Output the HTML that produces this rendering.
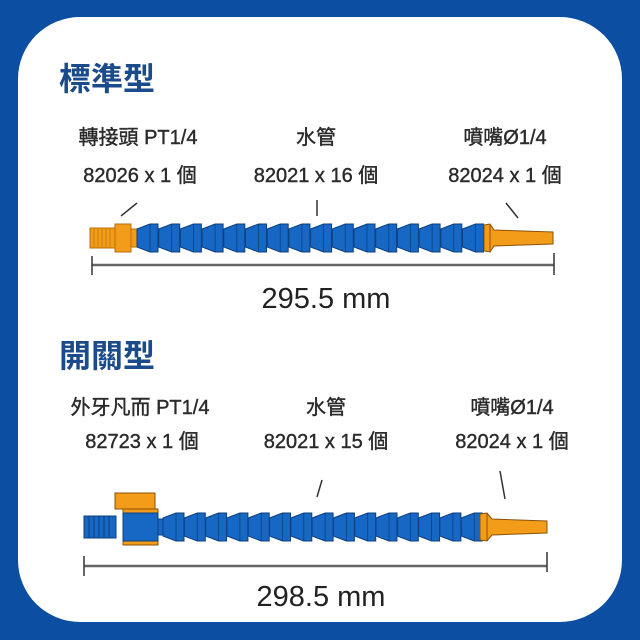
<!DOCTYPE html>
<html><head><meta charset="utf-8"><style>
html,body{margin:0;padding:0;background:#0b4ea2;}
svg{display:block}
text{font-family:"Liberation Sans","Noto Sans CJK TC",sans-serif;}
</style></head><body>
<svg width="640" height="640" viewBox="0 0 640 640" xmlns="http://www.w3.org/2000/svg">
<defs>
<g id="seg"><path d="M0,-9 L13,-14 L21,-14 L21,14 L13,14 L0,9 Z" fill="#1668c4" stroke="#0e3f7e" stroke-width="1"/><line x1="13" y1="-14" x2="13" y2="14" stroke="#0e3f7e" stroke-width="0.8"/></g>
</defs>
<rect x="0" y="0" width="640" height="640" fill="#0b4ea2"/>
<rect x="18" y="17" width="604" height="605" rx="62" fill="#fff"/>
<g fill="#1b4b8a" font-weight="bold" font-size="32">
<text x="59" y="90">標準型</text>
<text x="59" y="367">開關型</text>
</g>
<g fill="#2a2a2a" font-size="20" text-anchor="middle" stroke="#2a2a2a" stroke-width="0.4">
<text x="138" y="144">轉接頭 PT1/4</text>
<text x="140" y="182">82026 x 1 個</text>
<text x="316" y="144">水管</text>
<text x="316" y="182">82021 x 16 個</text>
<text x="505" y="144">噴嘴Ø1/4</text>
<text x="505" y="182">82024 x 1 個</text>
<text x="140" y="414">外牙凡而 PT1/4</text>
<text x="142" y="448">82723 x 1 個</text>
<text x="326" y="414">水管</text>
<text x="326" y="448">82021 x 15 個</text>
<text x="512" y="414">噴嘴Ø1/4</text>
<text x="512" y="448">82024 x 1 個</text>
</g>
<g stroke="#333" stroke-width="1.5">
<line x1="121" y1="216" x2="137" y2="203"/>
<line x1="317" y1="200" x2="317" y2="216"/>
<line x1="506" y1="203" x2="518" y2="218"/>
<line x1="322" y1="480" x2="317" y2="497"/>
<line x1="500" y1="471" x2="505" y2="499"/>
</g>
<g transform="translate(0,238)">
<rect x="90" y="-10" width="26" height="20" fill="#f39c1a" stroke="#b86e0a"/>
<g stroke="#c8800f" stroke-width="1"><line x1="94" y1="-10" x2="94" y2="10"/><line x1="98" y1="-10" x2="98" y2="10"/><line x1="102" y1="-10" x2="102" y2="10"/><line x1="106" y1="-10" x2="106" y2="10"/><line x1="110" y1="-10" x2="110" y2="10"/></g>
<rect x="115" y="-14" width="16" height="28" fill="#f39c1a" stroke="#b86e0a"/>
<rect x="131" y="-9" width="6" height="18" fill="#f39c1a" stroke="#b86e0a"/>
<use href="#seg" x="137"/><use href="#seg" x="158.7"/><use href="#seg" x="180.4"/><use href="#seg" x="202.1"/><use href="#seg" x="223.8"/><use href="#seg" x="245.5"/><use href="#seg" x="267.2"/><use href="#seg" x="288.9"/><use href="#seg" x="310.6"/><use href="#seg" x="332.3"/><use href="#seg" x="354"/><use href="#seg" x="375.7"/><use href="#seg" x="397.4"/><use href="#seg" x="419.1"/><use href="#seg" x="440.8"/><use href="#seg" x="462.5"/>
<path d="M484,-13 L490,-14 L494,-8 L553,-6 L553,6 L494,8 L490,14 L484,13 Z" fill="#f39c1a" stroke="#8a5208"/>
<line x1="490" y1="-14" x2="490" y2="14" stroke="#8a5208"/>
</g>
<g stroke="#666" stroke-width="2.5"><line x1="92" y1="265" x2="554" y2="265"/></g>
<g stroke="#333" stroke-width="1.5"><line x1="92" y1="256" x2="92" y2="275"/><line x1="554" y1="253" x2="554" y2="275"/></g>
<text x="326" y="308" font-size="29" text-anchor="middle" fill="#222">295.5 mm</text>
<g transform="translate(0,527)">
<rect x="84" y="-11" width="32" height="22" fill="#1668c4" stroke="#0e3f7e"/>
<g stroke="#0e3f7e" stroke-width="1"><line x1="89" y1="-11" x2="89" y2="11"/><line x1="94" y1="-11" x2="94" y2="11"/><line x1="99" y1="-11" x2="99" y2="11"/><line x1="104" y1="-11" x2="104" y2="11"/><line x1="109" y1="-11" x2="109" y2="11"/></g>
<rect x="115" y="-34" width="40" height="16" fill="#f39c1a" stroke="#8a5208"/>
<rect x="123" y="-18" width="35" height="36" fill="#f39c1a" stroke="#8a5208"/>
<rect x="123" y="-14" width="35" height="28" fill="#1668c4" stroke="#0e3f7e"/>
<rect x="158" y="-8" width="5" height="16" fill="#1668c4" stroke="#0e3f7e"/>
<use href="#seg" x="163"/><use href="#seg" x="184.3"/><use href="#seg" x="205.6"/><use href="#seg" x="226.9"/><use href="#seg" x="248.2"/><use href="#seg" x="269.5"/><use href="#seg" x="290.8"/><use href="#seg" x="312.1"/><use href="#seg" x="333.4"/><use href="#seg" x="354.7"/><use href="#seg" x="376"/><use href="#seg" x="397.3"/><use href="#seg" x="418.6"/><use href="#seg" x="439.9"/><use href="#seg" x="461.2"/>
<path d="M480,-13 L487,-14 L492,-8 L547,-6 L547,6 L492,8 L487,14 L480,13 Z" fill="#f39c1a" stroke="#8a5208"/>
<line x1="487" y1="-14" x2="487" y2="14" stroke="#8a5208"/>
</g>
<g stroke="#666" stroke-width="2.5"><line x1="84" y1="566" x2="547" y2="566"/></g>
<g stroke="#333" stroke-width="1.5"><line x1="84" y1="556" x2="84" y2="576"/><line x1="547" y1="552" x2="547" y2="572"/></g>
<text x="321" y="606" font-size="29" text-anchor="middle" fill="#222">298.5 mm</text>
</svg>
</body></html>
